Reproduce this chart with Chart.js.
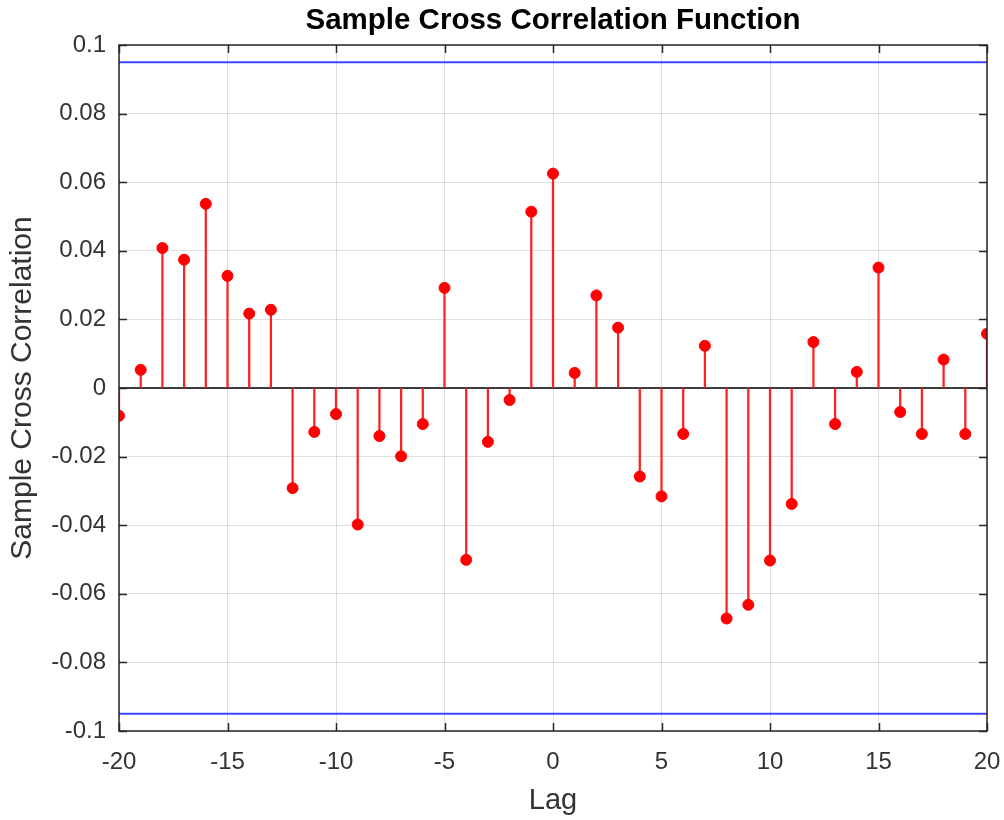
<!DOCTYPE html>
<html>
<head>
<meta charset="utf-8">
<script src="https://cdn.jsdelivr.net/npm/chart.js@4/dist/chart.umd.min.js"></script>
<style>
html,body{margin:0;padding:0;background:#fff;}
#wrap{width:1004px;height:820px;}
</style>
</head>
<body>
<div id="wrap"><canvas id="c" width="1004" height="820"></canvas></div>
<script>
const lags = [-20,-19,-18,-17,-16,-15,-14,-13,-12,-11,-10,-9,-8,-7,-6,-5,-4,-3,-2,-1,0,1,2,3,4,5,6,7,8,9,10,11,12,13,14,15,16,17,18,19,20];
const xcf = [-0.0081,0.0053,0.0408,0.0374,0.0537,0.0327,0.0217,0.0228,-0.0292,-0.0128,-0.0076,-0.0398,-0.0140,-0.0199,-0.0105,0.0292,-0.0501,-0.0157,-0.0035,0.0514,0.0625,0.0044,0.0270,0.0176,-0.0258,-0.0316,-0.0134,0.0123,-0.0672,-0.0632,-0.0503,-0.0338,0.0134,-0.0105,0.0047,0.0351,-0.0070,-0.0134,0.0083,-0.0134,0.0158];
const bound = 0.0950;
const xRange = [-20, 20];
const yRange = [-0.1, 0.1];
const chartTitle = 'Sample Cross Correlation Function';
const xLabel = 'Lag';
const yLabel = 'Sample Cross Correlation';

const pts = lags.map((l,i)=>({x:l,y:xcf[i]}));
const FONT = '"Liberation Sans", Arial, Helvetica, sans-serif';
const AXC = '#262626';
const TXC = '#333333';

const frame = {
  id:'frame',
  afterDatasetsDraw(chart){
    const {ctx, chartArea:a, scales} = chart;
    ctx.save();
    ctx.strokeStyle = AXC;
    ctx.lineWidth = 1.5;
    const tl = 8;
    ctx.beginPath();
    scales.x.ticks.forEach(t=>{
      const px = Math.round(scales.x.getPixelForValue(t.value))+0.5;
      ctx.moveTo(px,a.bottom); ctx.lineTo(px,a.bottom-tl);
      ctx.moveTo(px,a.top); ctx.lineTo(px,a.top+tl);
    });
    scales.y.ticks.forEach(t=>{
      const py = Math.round(scales.y.getPixelForValue(t.value))+0.5;
      ctx.moveTo(a.left,py); ctx.lineTo(a.left+tl,py);
      ctx.moveTo(a.right,py); ctx.lineTo(a.right-tl,py);
    });
    ctx.stroke();
    ctx.beginPath();
    ctx.rect(a.left, a.top, a.right-a.left, a.bottom-a.top);
    ctx.stroke();
    ctx.restore();
  }
};

new Chart(document.getElementById('c'), {
  data: {
    datasets: [
      {type:'line', data:[{x:xRange[0],y:bound},{x:xRange[1],y:bound}], borderColor:'rgba(20,20,255,0.8)', borderWidth:2, pointRadius:0, order:5},
      {type:'line', data:[{x:xRange[0],y:-bound},{x:xRange[1],y:-bound}], borderColor:'rgba(20,20,255,0.8)', borderWidth:2, pointRadius:0, order:5},
      {type:'line', data:[{x:xRange[0],y:0},{x:xRange[1],y:0}], borderColor:'#000', borderWidth:1.5, pointRadius:0, order:4},
      {type:'bar', data:pts, backgroundColor:'#ff2020', barThickness:1.6, order:3},
      {type:'scatter', data:pts, backgroundColor:'#ff0000', borderColor:'#ff0000', pointRadius:5.5, pointHoverRadius:5.5, order:1}
    ]
  },
  options: {
    responsive:false,
    animation:false,
    events:[],
    layout:{padding:{top:0,left:0,right:17,bottom:0}},
    plugins:{
      legend:{display:false},
      tooltip:{enabled:false},
      title:{display:true, fullSize:false, text:chartTitle, color:'#000', font:{family:FONT, size:29.5, weight:'bold', lineHeight:1.2}, padding:{top:3,bottom:6.6}}
    },
    scales:{
      x:{
        type:'linear', min:xRange[0], max:xRange[1], offset:false,
        ticks:{stepSize:5, color:TXC, font:{family:FONT, size:24}, padding:17, maxRotation:0},
        grid:{color:'rgba(38,38,38,0.15)', lineWidth:1, drawTicks:false, offset:false},
        border:{display:false},
        title:{display:true, text:xLabel, color:TXC, font:{family:FONT, size:29, lineHeight:1.2}, padding:{top:2,bottom:2}},
        afterFit(s){ s.height = 89; s.paddingLeft = 0; s.paddingRight = 0; }
      },
      y:{
        type:'linear', min:yRange[0], max:yRange[1],
        ticks:{stepSize:0.02, color:TXC, font:{family:FONT, size:24}, padding:13,
          callback:v=>{ const r = Math.round(v*100)/100; return Math.abs(r)<1e-9 ? '0' : String(r); }},
        grid:{color:'rgba(38,38,38,0.15)', lineWidth:1, drawTicks:false},
        border:{display:false},
        title:{display:true, text:yLabel, color:TXC, font:{family:FONT, size:30, lineHeight:1.2}, padding:{top:4.5,bottom:2}},
        afterFit(s){ s.width = 119; s.paddingTop = 0; s.paddingBottom = 0; }
      }
    }
  },
  plugins:[frame]
});
</script>
</body>
</html>
